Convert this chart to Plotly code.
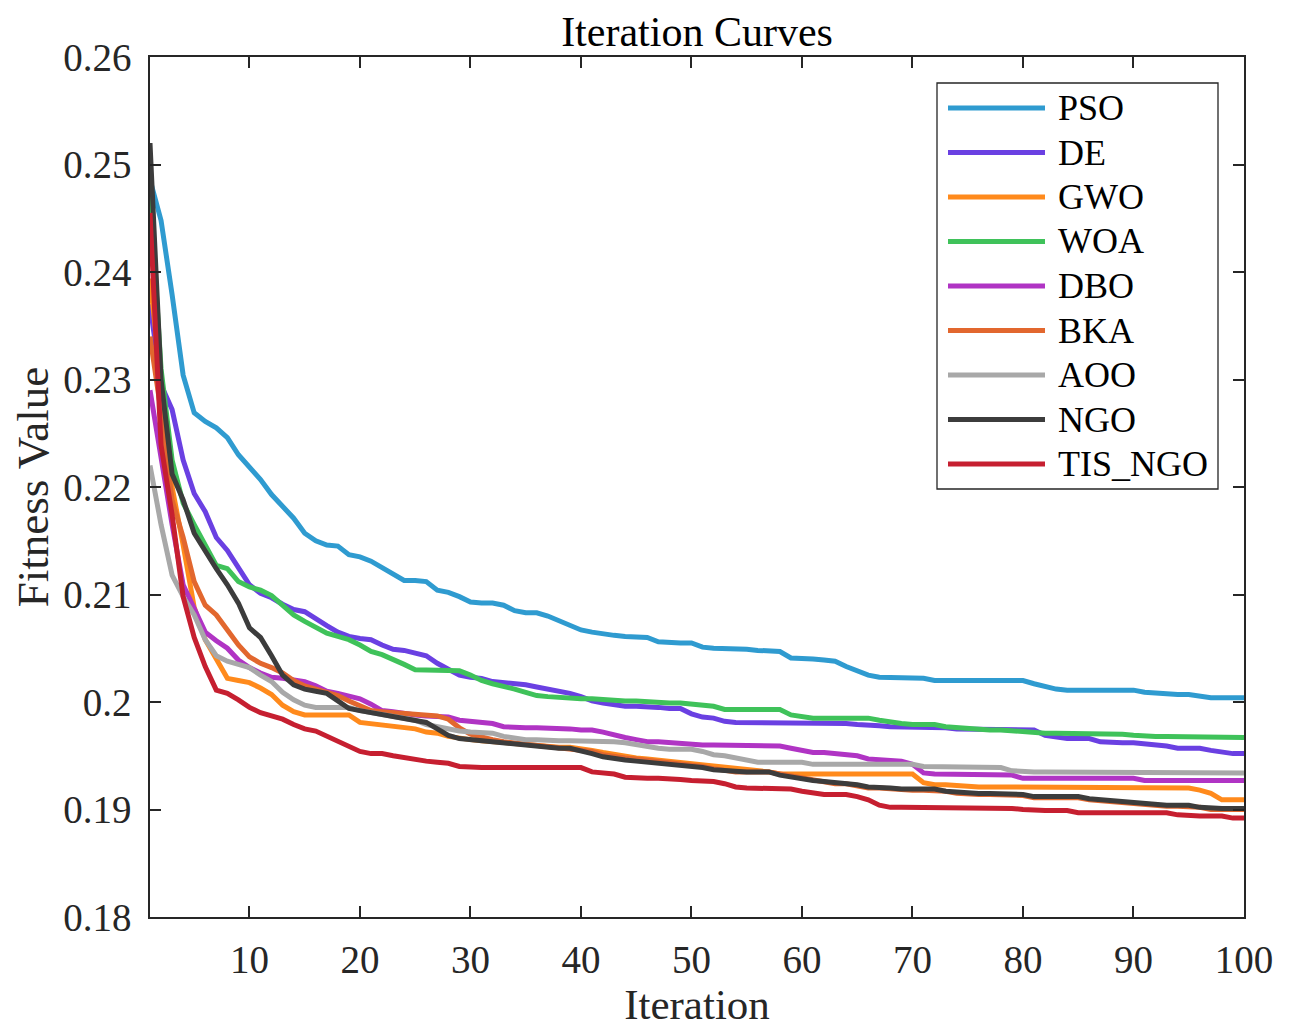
import plotly.graph_objects as go

iterations = list(range(1, 101))

PSO = [0.2486, 0.2448, 0.2379, 0.2304, 0.2269, 0.2261, 0.2255, 0.2246, 0.2230, 0.2218,
       0.2207, 0.2193, 0.2182, 0.2171, 0.2157, 0.2150, 0.2146, 0.2145, 0.2137, 0.2135,
       0.2131, 0.2125, 0.2118, 0.2113, 0.2113, 0.2112, 0.2104, 0.2102, 0.2098, 0.2093,
       0.2092, 0.2092, 0.2090, 0.2085, 0.2083, 0.2083, 0.2080, 0.2076, 0.2071, 0.2067,
       0.2065, 0.2063, 0.2062, 0.2061, 0.2060, 0.2060, 0.2056, 0.2055, 0.2055, 0.2055,
       0.2051, 0.2050, 0.2050, 0.2049, 0.2049, 0.2048, 0.2048, 0.2047, 0.2041, 0.2041,
       0.2040, 0.2039, 0.2038, 0.2033, 0.2029, 0.2025, 0.2023, 0.2023, 0.2023, 0.2023,
       0.2022, 0.2020, 0.2020, 0.2020, 0.2020, 0.2020, 0.2020, 0.2020, 0.2020, 0.2020,
       0.2017, 0.2014, 0.2012, 0.2011, 0.2011, 0.2011, 0.2011, 0.2011, 0.2011, 0.2011,
       0.2009, 0.2008, 0.2007, 0.2007, 0.2007, 0.2005, 0.2004, 0.2004, 0.2004, 0.2004]

DE = [0.2370, 0.2295, 0.2272, 0.2225, 0.2194, 0.2177, 0.2153, 0.2141, 0.2125, 0.2109,
      0.2101, 0.2097, 0.2091, 0.2086, 0.2084, 0.2077, 0.2071, 0.2065, 0.2061, 0.2059,
      0.2058, 0.2053, 0.2049, 0.2048, 0.2046, 0.2043, 0.2036, 0.2030, 0.2025, 0.2023,
      0.2022, 0.2019, 0.2018, 0.2018, 0.2016, 0.2014, 0.2012, 0.2011, 0.2008, 0.2005,
      0.2001, 0.1999, 0.1997, 0.1996, 0.1996, 0.1996, 0.1995, 0.1994, 0.1994, 0.1989,
      0.1986, 0.1985, 0.1982, 0.1981, 0.1981, 0.1981, 0.1981, 0.1981, 0.1981, 0.1981,
      0.1980, 0.1980, 0.1980, 0.1980, 0.1979, 0.1979, 0.1978, 0.1977, 0.1977, 0.1977,
      0.1977, 0.1976, 0.1976, 0.1975, 0.1975, 0.1975, 0.1975, 0.1975, 0.1975, 0.1974,
      0.1974, 0.1969, 0.1967, 0.1966, 0.1966, 0.1966, 0.1963, 0.1962, 0.1962, 0.1962,
      0.1961, 0.1961, 0.1959, 0.1957, 0.1957, 0.1957, 0.1955, 0.1953, 0.1952, 0.1952]

GWO = [0.2394, 0.2300, 0.2200, 0.2146, 0.2088, 0.2058, 0.2039, 0.2022, 0.2020, 0.2018,
       0.2013, 0.2007, 0.1997, 0.1991, 0.1988, 0.1988, 0.1988, 0.1988, 0.1988, 0.1981,
       0.1980, 0.1979, 0.1978, 0.1977, 0.1975, 0.1972, 0.1971, 0.1968, 0.1966, 0.1965,
       0.1964, 0.1963, 0.1962, 0.1961, 0.1960, 0.1960, 0.1959, 0.1958, 0.1958, 0.1957,
       0.1955, 0.1953, 0.1951, 0.1950, 0.1948, 0.1947, 0.1946, 0.1945, 0.1944, 0.1943,
       0.1942, 0.1940, 0.1939, 0.1938, 0.1937, 0.1936, 0.1935, 0.1933, 0.1933, 0.1933,
       0.1933, 0.1933, 0.1933, 0.1933, 0.1933, 0.1933, 0.1933, 0.1933, 0.1933, 0.1933,
       0.1925, 0.1923, 0.1923, 0.1922, 0.1922, 0.1921, 0.1921, 0.1921, 0.1921, 0.1921,
       0.1921, 0.1921, 0.1921, 0.1921, 0.1921, 0.1921, 0.1921, 0.1921, 0.1921, 0.1921,
       0.1920, 0.1920, 0.1920, 0.1920, 0.1920, 0.1918, 0.1915, 0.1909, 0.1909, 0.1909]

WOA = [0.2475, 0.2310, 0.2225, 0.2185, 0.2165, 0.2145, 0.2127, 0.2124, 0.2112, 0.2107,
       0.2104, 0.2099, 0.2090, 0.2081, 0.2075, 0.2070, 0.2064, 0.2061, 0.2058, 0.2053,
       0.2047, 0.2044, 0.2040, 0.2035, 0.2030, 0.2030, 0.2030, 0.2030, 0.2029, 0.2025,
       0.2020, 0.2017, 0.2015, 0.2012, 0.2009, 0.2006, 0.2005, 0.2004, 0.2004, 0.2003,
       0.2003, 0.2002, 0.2002, 0.2001, 0.2001, 0.2000, 0.2000, 0.1999, 0.1999, 0.1998,
       0.1997, 0.1996, 0.1993, 0.1993, 0.1993, 0.1993, 0.1993, 0.1993, 0.1988, 0.1986,
       0.1985, 0.1985, 0.1985, 0.1985, 0.1985, 0.1985, 0.1983, 0.1981, 0.1980, 0.1979,
       0.1979, 0.1979, 0.1977, 0.1976, 0.1975, 0.1975, 0.1974, 0.1974, 0.1973, 0.1972,
       0.1971, 0.1971, 0.1971, 0.1971, 0.1970, 0.1970, 0.1970, 0.1970, 0.1970, 0.1969,
       0.1968, 0.1968, 0.1968, 0.1968, 0.1968, 0.1967, 0.1967, 0.1967, 0.1967, 0.1967]

DBO = [0.2290, 0.2225, 0.2165, 0.2109, 0.2086, 0.2065, 0.2057, 0.2050, 0.2039, 0.2032,
       0.2027, 0.2023, 0.2022, 0.2020, 0.2019, 0.2015, 0.2010, 0.2008, 0.2006, 0.2003,
       0.1998, 0.1992, 0.1991, 0.1989, 0.1988, 0.1987, 0.1987, 0.1986, 0.1983, 0.1982,
       0.1981, 0.1980, 0.1977, 0.1976, 0.1976, 0.1976, 0.1976, 0.1976, 0.1975, 0.1974,
       0.1974, 0.1972, 0.1969, 0.1967, 0.1965, 0.1963, 0.1963, 0.1962, 0.1962, 0.1961,
       0.1960, 0.1960, 0.1960, 0.1960, 0.1960, 0.1960, 0.1960, 0.1959, 0.1957, 0.1955,
       0.1953, 0.1953, 0.1952, 0.1951, 0.1950, 0.1947, 0.1946, 0.1945, 0.1945, 0.1942,
       0.1934, 0.1933, 0.1933, 0.1932, 0.1932, 0.1932, 0.1932, 0.1932, 0.1932, 0.1929,
       0.1929, 0.1929, 0.1929, 0.1929, 0.1929, 0.1929, 0.1929, 0.1929, 0.1929, 0.1929,
       0.1927, 0.1927, 0.1927, 0.1927, 0.1927, 0.1927, 0.1927, 0.1927, 0.1927, 0.1927]

BKA = [0.2340, 0.2270, 0.2188, 0.2153, 0.2112, 0.2090, 0.2081, 0.2067, 0.2053, 0.2042,
       0.2036, 0.2032, 0.2027, 0.2020, 0.2015, 0.2012, 0.2009, 0.2006, 0.2001, 0.1996,
       0.1992, 0.1991, 0.1990, 0.1989, 0.1988, 0.1988, 0.1987, 0.1984, 0.1976, 0.1970,
       0.1967, 0.1965, 0.1963, 0.1962, 0.1961, 0.1960, 0.1959, 0.1958, 0.1957, 0.1956,
       0.1954, 0.1951, 0.1949, 0.1948, 0.1947, 0.1946, 0.1945, 0.1944, 0.1943, 0.1942,
       0.1940, 0.1938, 0.1936, 0.1935, 0.1935, 0.1935, 0.1935, 0.1933, 0.1931, 0.1929,
       0.1927, 0.1925, 0.1924, 0.1924, 0.1922, 0.1920, 0.1920, 0.1919, 0.1918, 0.1918,
       0.1918, 0.1918, 0.1917, 0.1915, 0.1914, 0.1914, 0.1914, 0.1914, 0.1914, 0.1913,
       0.1911, 0.1911, 0.1911, 0.1911, 0.1911, 0.1909, 0.1908, 0.1907, 0.1906, 0.1906,
       0.1905, 0.1904, 0.1903, 0.1903, 0.1903, 0.1902, 0.1900, 0.1900, 0.1900, 0.1900]

AOO = [0.2220, 0.2165, 0.2118, 0.2098, 0.2081, 0.2058, 0.2043, 0.2038, 0.2035, 0.2032,
       0.2025, 0.2019, 0.2009, 0.2002, 0.1997, 0.1995, 0.1995, 0.1995, 0.1995, 0.1992,
       0.1990, 0.1989, 0.1987, 0.1985, 0.1983, 0.1979, 0.1977, 0.1974, 0.1973, 0.1972,
       0.1972, 0.1971, 0.1968, 0.1966, 0.1965, 0.1965, 0.1964, 0.1964, 0.1964, 0.1964,
       0.1963, 0.1963, 0.1963, 0.1962, 0.1960, 0.1958, 0.1957, 0.1956, 0.1956, 0.1956,
       0.1954, 0.1951, 0.1950, 0.1948, 0.1945, 0.1944, 0.1944, 0.1944, 0.1944, 0.1944,
       0.1942, 0.1942, 0.1942, 0.1942, 0.1942, 0.1942, 0.1942, 0.1942, 0.1942, 0.1942,
       0.1940, 0.1940, 0.1940, 0.1939, 0.1939, 0.1939, 0.1939, 0.1939, 0.1936, 0.1935,
       0.1935, 0.1935, 0.1935, 0.1935, 0.1935, 0.1935, 0.1935, 0.1935, 0.1935, 0.1934,
       0.1934, 0.1934, 0.1934, 0.1934, 0.1934, 0.1934, 0.1934, 0.1934, 0.1934, 0.1934]

NGO = [0.2520, 0.2300, 0.2212, 0.2188, 0.2157, 0.2140, 0.2124, 0.2109, 0.2092, 0.2069,
       0.2060, 0.2043, 0.2025, 0.2016, 0.2012, 0.2010, 0.2008, 0.2001, 0.1994, 0.1992,
       0.1990, 0.1989, 0.1987, 0.1985, 0.1983, 0.1981, 0.1975, 0.1969, 0.1966, 0.1965,
       0.1964, 0.1963, 0.1961, 0.1960, 0.1959, 0.1958, 0.1958, 0.1957, 0.1957, 0.1955,
       0.1952, 0.1949, 0.1947, 0.1946, 0.1945, 0.1944, 0.1943, 0.1942, 0.1941, 0.1941,
       0.1939, 0.1937, 0.1936, 0.1935, 0.1935, 0.1935, 0.1935, 0.1932, 0.1930, 0.1929,
       0.1927, 0.1926, 0.1925, 0.1925, 0.1923, 0.1921, 0.1921, 0.1920, 0.1919, 0.1919,
       0.1919, 0.1919, 0.1917, 0.1916, 0.1915, 0.1915, 0.1915, 0.1915, 0.1915, 0.1914,
       0.1912, 0.1912, 0.1912, 0.1912, 0.1912, 0.1910, 0.1909, 0.1908, 0.1907, 0.1907,
       0.1906, 0.1905, 0.1904, 0.1904, 0.1904, 0.1902, 0.1901, 0.1901, 0.1901, 0.1901]

TIS_NGO = [0.2455, 0.2239, 0.2174, 0.2098, 0.2060, 0.2033, 0.2011, 0.2008, 0.2002, 0.1995,
           0.1990, 0.1987, 0.1984, 0.1979, 0.1975, 0.1973, 0.1968, 0.1964, 0.1958, 0.1954,
           0.1952, 0.1952, 0.1950, 0.1948, 0.1946, 0.1945, 0.1944, 0.1943, 0.1940, 0.1939,
           0.1939, 0.1939, 0.1939, 0.1939, 0.1939, 0.1939, 0.1939, 0.1939, 0.1939, 0.1939,
           0.1935, 0.1934, 0.1933, 0.1930, 0.1929, 0.1929, 0.1929, 0.1929, 0.1928, 0.1927,
           0.1927, 0.1926, 0.1924, 0.1921, 0.1920, 0.1920, 0.1920, 0.1920, 0.1919, 0.1917,
           0.1915, 0.1914, 0.1914, 0.1914, 0.1912, 0.1909, 0.1904, 0.1902, 0.1902, 0.1902,
           0.1902, 0.1902, 0.1902, 0.1901, 0.1901, 0.1901, 0.1901, 0.1901, 0.1901, 0.1900,
           0.1899, 0.1899, 0.1899, 0.1899, 0.1897, 0.1897, 0.1897, 0.1897, 0.1897, 0.1897,
           0.1897, 0.1897, 0.1897, 0.1895, 0.1894, 0.1894, 0.1894, 0.1894, 0.1892, 0.1892]

series_names = ["PSO", "DE", "GWO", "WOA", "DBO", "BKA", "AOO", "NGO", "TIS_NGO"]
series_values = [PSO, DE, GWO, WOA, DBO, BKA, AOO, NGO, TIS_NGO]
series_colors = ["#2F9BD0", "#6A40E2", "#FF8A1C", "#3FC25A", "#B034C4",
                 "#E2672E", "#A8A8A8", "#3C3C3C", "#C61F30"]

y_tickvals = [0.18, 0.19, 0.20, 0.21, 0.22, 0.23, 0.24, 0.25, 0.26]
y_ticktext = ["0.18", "0.19", "0.2", "0.21", "0.22", "0.23", "0.24", "0.25", "0.26"]
x_tickvals = [10, 20, 30, 40, 50, 60, 70, 80, 90, 100]

FONT = "Liberation Serif, Times New Roman, serif"
OFF = 8  # page body margin of the browser
W, H = 1290 - OFF, 1028 - OFF
ML, MR, MT, MB = 150 - OFF, 46, 57 - OFF, 111
PW, PH = W - ML - MR, H - MT - MB


def px_to_paper_x(px):
    return (px - OFF - ML) / PW


def px_to_paper_y(py):
    return 1 - (py - OFF - MT) / PH


fig = go.Figure()
for name, vals, col in zip(series_names, series_values, series_colors):
    fig.add_trace(go.Scatter(x=iterations, y=vals, mode="lines", name=name,
                             line=dict(color=col, width=5), showlegend=False))

# legend box drawn with long line samples, as in the reference
shapes = [dict(type="rect", xref="paper", yref="paper",
               x0=px_to_paper_x(937), x1=px_to_paper_x(1218),
               y0=px_to_paper_y(489), y1=px_to_paper_y(83),
               line=dict(color="#262626", width=1.3), fillcolor="white", layer="above")]
annotations = []
for k, (name, col) in enumerate(zip(series_names, series_colors)):
    cy = 108 + k * 44.5
    shapes.append(dict(type="line", xref="paper", yref="paper",
                       x0=px_to_paper_x(948), x1=px_to_paper_x(1045),
                       y0=px_to_paper_y(cy), y1=px_to_paper_y(cy),
                       line=dict(color=col, width=5), layer="above"))
    annotations.append(dict(text=name, xref="paper", yref="paper",
                            x=px_to_paper_x(1056), y=px_to_paper_y(cy),
                            xanchor="left", yanchor="middle", showarrow=False,
                            font=dict(family=FONT, size=36, color="black")))

axis_common = dict(showline=True, linecolor="#262626", linewidth=1.5, mirror="ticks",
                   ticks="inside", ticklen=11, tickwidth=1.5, tickcolor="#262626",
                   showgrid=False, zeroline=False,
                   tickfont=dict(family=FONT, size=39, color="#262626"))

fig.update_layout(
    width=W, height=H,
    margin=dict(l=ML, r=MR, t=MT, b=MB, autoexpand=False),
    paper_bgcolor="white", plot_bgcolor="white",
    title=dict(text="Iteration Curves", x=0.5, xref="paper", xanchor="center",
               y=1 - (31 - OFF) / H, yref="container", yanchor="middle",
               font=dict(family=FONT, size=42, color="black")),
    xaxis=dict(range=[1, 100], tickvals=x_tickvals, ticklabelstandoff=7,
               title=dict(text="Iteration", standoff=10,
                          font=dict(family=FONT, size=43, color="#262626")),
               **axis_common),
    yaxis=dict(range=[0.18, 0.26], tickvals=y_tickvals, ticktext=y_ticktext,
               ticklabelstandoff=9,
               title=dict(text="Fitness Value", standoff=8,
                          font=dict(family=FONT, size=45, color="#262626")),
               **axis_common),
    shapes=shapes, annotations=annotations,
)

fig.write_html("out.html")
